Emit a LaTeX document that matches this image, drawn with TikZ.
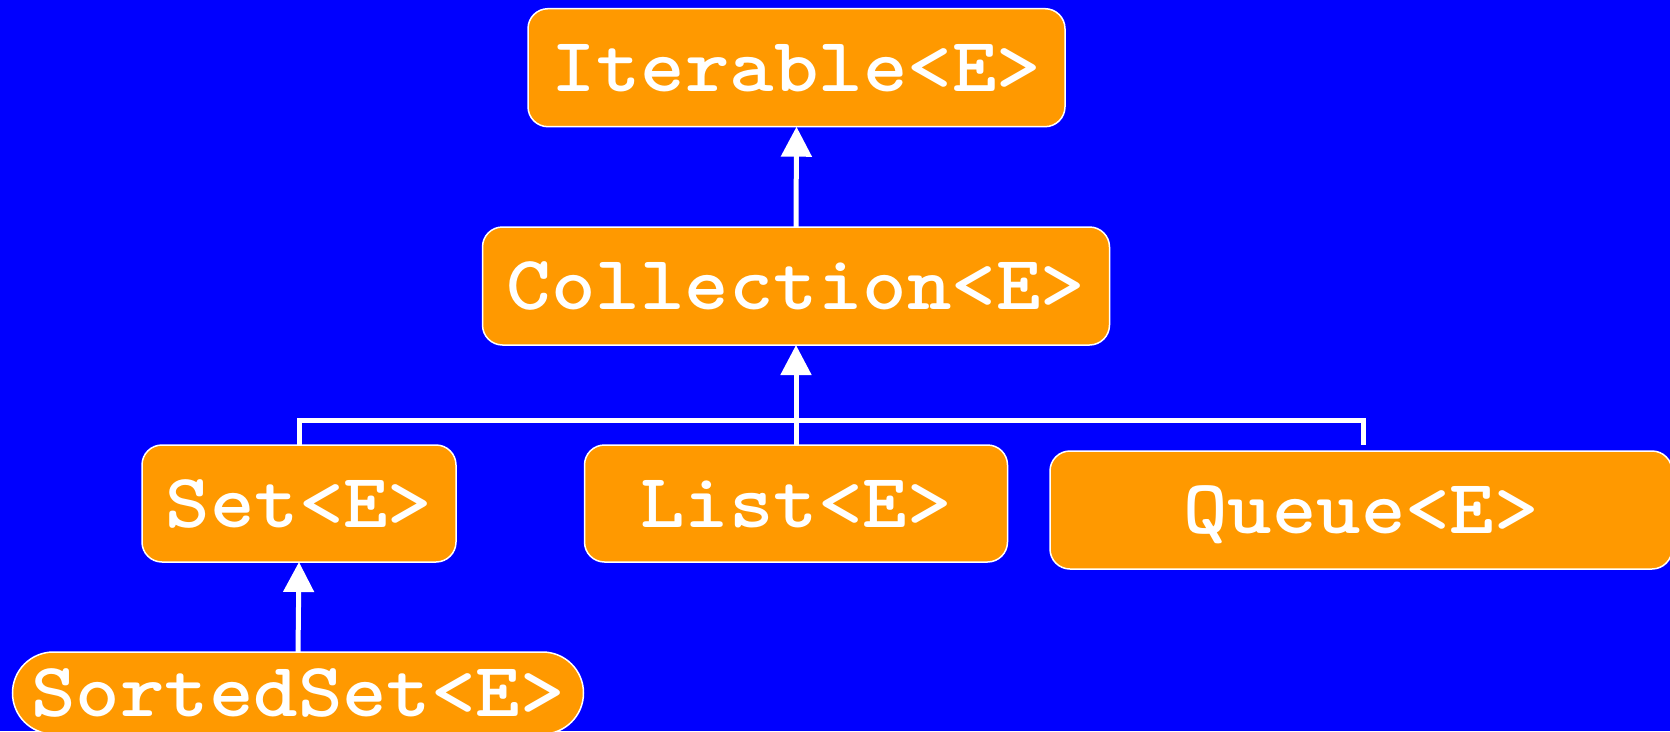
\documentclass[tikz,border=0pt]{standalone}
\usepackage{fontspec}
\newfontfamily\codefont{lmmonolt10-bold}[Extension=.otf, FakeStretch=1.1]
\usetikzlibrary{arrows.meta}
\definecolor{bgblue}{HTML}{0000FF}
\definecolor{boxorange}{HTML}{FF9900}
\tikzset{
  iface/.style={draw=white, line width=1.5pt, fill=boxorange, rounded corners=20pt,
    inner sep=0pt, outer sep=0pt, text=white,
    font=\codefont\fontsize{77}{80}\selectfont,
    text height=47pt, text depth=0pt},
  link/.style={draw=white, line width=5pt},
  inherits/.style={link, -{Triangle[width=30pt,length=30pt]}},
}
\begin{document}
\begin{tikzpicture}[x=1pt, y=-1pt]
  % canvas
  \fill[bgblue] (0,0) rectangle (1670,731);
  \useasboundingbox (0,0) rectangle (1670,731);

  % interfaces
  \node[iface, minimum width=537pt, minimum height=118pt] (it) at (796.5,67.7) {Iterable<E>};
  \node[iface, minimum width=627pt, minimum height=118pt] (col) at (796,286) {Collection<E>};
  \node[iface, minimum width=314pt, minimum height=117pt] (set) at (299,503.5) {Set<E>};
  \node[iface, minimum width=423pt, minimum height=117pt] (list) at (796,503.5) {List<E>};
  \node[iface, minimum width=622pt, minimum height=118pt] (queue) at (1361,510) {Queue<E>};
  \node[iface, minimum width=571pt, minimum height=82pt, rounded corners=41pt] (sorted) at (298,693) {SortedSet<E>};

  % junction of the sub-interfaces of Collection
  \coordinate (bar) at (796,420);
  \coordinate (qleg) at (1363,445);

  % inheritance connectors
  \draw[inherits] (col.north) -- (it.south);
  \draw[inherits] (list.north) -- (col.south);
  \draw[link] (set.north) -- (set.north |- bar) -| (qleg);
  \draw[inherits] (sorted.north) -- (set.south);
\end{tikzpicture}
\end{document}
